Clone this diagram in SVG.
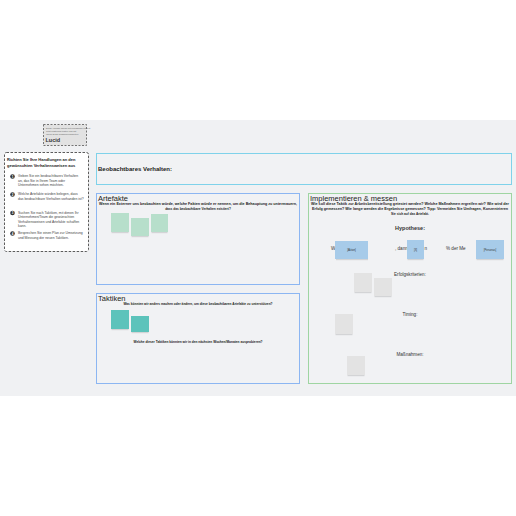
<svg xmlns="http://www.w3.org/2000/svg" width="516" height="516" viewBox="0 0 516 516">
<style>
text{font-family:"Liberation Sans",Arial,sans-serif;fill:#222}
.t{font-size:7.5px}
.s{font-size:3.2px;font-weight:bold}
.i{font-size:3.4px;fill:#444}
.h{font-size:4.6px;fill:#333}
.panel{fill:#f1f2f4;stroke-width:1}
.mint{fill:#b7dfcb}
.teal{fill:#5cc3bb}
.blue{fill:#a7cbe9}
.grey{fill:#e3e3e3}
.sh{fill:#000;opacity:0.12}
</style>
<rect x="0" y="0" width="516" height="516" fill="#ffffff"/>
<rect x="0" y="120" width="516" height="276" fill="#f0f1f3"/>

<g id="logo">
<rect x="43.5" y="124.5" width="43" height="21" fill="#e2e2e2" stroke="#555" stroke-width="0.8" stroke-dasharray="2,1.5"/>
<text x="46" y="129" style="font-size:2.3px;fill:#666">Diese Vorlage wurde mit Lucidspark erstellt.</text>
<text x="46" y="131.8" style="font-size:2.3px;fill:#666">Jetzt kostenlos testen und mit</text>
<text x="46" y="134.6" style="font-size:2.3px;fill:#666">Ihrem Team zusammenarbeiten.</text>
<text x="45.5" y="142" style="font-size:5.5px;font-weight:bold;fill:#333">Lucid</text>
</g>

<g id="instructions">
<rect x="4.5" y="152.5" width="84" height="99" rx="2" fill="#ffffff" stroke="#333" stroke-width="0.8" stroke-dasharray="2.5,1.5"/>
<text x="7" y="161" style="font-size:4px;font-weight:bold">Richten Sie Ihre Handlungen an den</text>
<text x="7" y="167" style="font-size:4px;font-weight:bold">gewünschten Verhaltensweisen aus</text>
<circle cx="12.5" cy="176.5" r="2.3" fill="#333"/><text x="12.5" y="177.6" text-anchor="middle" style="font-size:3px;fill:#fff;font-weight:bold">1</text>
<text x="18" y="177" class="i">Geben Sie ein beobachtbares Verhalten</text>
<text x="18" y="181.5" class="i">an, das Sie in Ihrem Team oder</text>
<text x="18" y="186" class="i">Unternehmen sehen möchten.</text>
<circle cx="12.5" cy="194.5" r="2.3" fill="#333"/><text x="12.5" y="195.6" text-anchor="middle" style="font-size:3px;fill:#fff;font-weight:bold">2</text>
<text x="18" y="195" class="i">Welche Artefakte würden belegen, dass</text>
<text x="18" y="199.5" class="i">das beobachtbare Verhalten vorhanden ist?</text>
<circle cx="12.5" cy="213" r="2.3" fill="#333"/><text x="12.5" y="214.1" text-anchor="middle" style="font-size:3px;fill:#fff;font-weight:bold">3</text>
<text x="18" y="213.5" class="i">Suchen Sie nach Taktiken, mit denen Ihr</text>
<text x="18" y="218" class="i">Unternehmen/Team die gewünschten</text>
<text x="18" y="222.5" class="i">Verhaltensweisen und Artefakte schaffen</text>
<text x="18" y="227" class="i">kann.</text>
<circle cx="12.5" cy="233.5" r="2.3" fill="#333"/><text x="12.5" y="234.6" text-anchor="middle" style="font-size:3px;fill:#fff;font-weight:bold">4</text>
<text x="18" y="234" class="i">Besprechen Sie einen Plan zur Umsetzung</text>
<text x="18" y="238.5" class="i">und Messung der neuen Taktiken.</text>
</g>

<g id="verhalten">
<rect x="96.5" y="153.5" width="415" height="31" class="panel" stroke="#7fd2ea"/>
<text x="98" y="171" style="font-size:6px;font-weight:bold">Beobachtbares Verhalten:</text>
</g>

<g id="artefakte">
<rect x="96.5" y="193.5" width="203" height="91" class="panel" stroke="#8cb6f2"/>
<text x="98" y="200.5" class="t">Artefakte</text>
<text x="198" y="205" text-anchor="middle" class="s" textLength="198" lengthAdjust="spacingAndGlyphs">Wenn ein Externer uns beobachten würde, welche Fakten würde er nennen, um die Behauptung zu untermauern,</text>
<text x="198" y="210" text-anchor="middle" class="s">dass das beobachtbare Verhalten existiert?</text>
<rect x="111.5" y="232" width="17" height="1.2" class="sh"/>
<rect x="111" y="213" width="18" height="19" class="mint"/>
<rect x="131.5" y="236" width="17" height="1.2" class="sh"/>
<rect x="131" y="218" width="18" height="18" class="mint"/>
<rect x="151.5" y="232" width="16" height="1.2" class="sh"/>
<rect x="151" y="214" width="17" height="18" class="mint"/>
</g>

<g id="taktiken">
<rect x="96.5" y="293.5" width="203" height="90" class="panel" stroke="#8cb6f2"/>
<text x="98" y="300.5" class="t">Taktiken</text>
<text x="198" y="305" text-anchor="middle" class="s">Was könnten wir anders machen oder ändern, um diese beobachtbaren Artefakte zu unterstützen?</text>
<rect x="111.5" y="329" width="17" height="1.2" class="sh"/>
<rect x="111" y="310" width="18" height="19" class="teal"/>
<rect x="131.5" y="332" width="17" height="1.2" class="sh"/>
<rect x="131" y="316" width="18" height="16" class="teal"/>
<text x="198" y="343" text-anchor="middle" class="s">Welche dieser Taktiken könnten wir in den nächsten Wochen/Monaten ausprobieren?</text>
</g>

<g id="implementieren">
<rect x="308.5" y="193.5" width="203" height="190" class="panel" stroke="#9fd5a2"/>
<text x="310" y="200.5" class="t">Implementieren &amp; messen</text>
<text x="410" y="205" text-anchor="middle" class="s" textLength="198" lengthAdjust="spacingAndGlyphs">Wie soll diese Taktik zur Arbeitsbereitstellung getestet werden? Welche Maßnahmen ergreifen wir? Wie wird der</text>
<text x="410" y="210" text-anchor="middle" class="s" textLength="196" lengthAdjust="spacingAndGlyphs">Erfolg gemessen? Wie lange werden die Ergebnisse gemessen? Tipp: Vermeiden Sie Umfragen, Konzentrieren</text>
<text x="410" y="215" text-anchor="middle" class="s">Sie sich auf das Artefakt.</text>
<text x="410" y="230" text-anchor="middle" style="font-size:5.5px;font-weight:bold;fill:#333">Hypothese:</text>
<text x="331" y="250" class="h">W</text>
<text x="395" y="250" class="h">, dann</text>
<text x="424.5" y="250" class="h">n</text>
<text x="446" y="250" class="h">% der Me</text>
<rect x="336" y="259" width="32" height="1.2" class="sh"/>
<rect x="335" y="241" width="33" height="18" class="blue"/>
<text x="351.5" y="251" text-anchor="middle" style="font-size:2.6px;fill:#333">[Aktion]</text>
<rect x="407.5" y="259" width="16" height="1.2" class="sh"/>
<rect x="407" y="240" width="17" height="19" class="blue"/>
<text x="415.5" y="250.5" text-anchor="middle" style="font-size:2.6px;fill:#333">[X]</text>
<rect x="476.5" y="259" width="27" height="1.2" class="sh"/>
<rect x="476" y="240" width="28" height="19" class="blue"/>
<text x="490" y="250.5" text-anchor="middle" style="font-size:2.6px;fill:#333">[Personas]</text>
<text x="410" y="275.5" text-anchor="middle" class="h">Erfolgskriterien:</text>
<rect x="354.5" y="292" width="17" height="1.2" class="sh"/>
<rect x="354" y="273" width="18" height="19" class="grey"/>
<rect x="374.5" y="296" width="17" height="1.2" class="sh"/>
<rect x="374" y="278" width="18" height="18" class="grey"/>
<text x="410" y="315.5" text-anchor="middle" class="h">Timing:</text>
<rect x="335.5" y="334" width="17" height="1.2" class="sh"/>
<rect x="335" y="314" width="18" height="20" class="grey"/>
<text x="410" y="355.5" text-anchor="middle" class="h">Maßnahmen:</text>
<rect x="347.5" y="375" width="17" height="1.2" class="sh"/>
<rect x="347" y="356" width="18" height="19" class="grey"/>
</g>

<g id="connectors"></g>
</svg>
